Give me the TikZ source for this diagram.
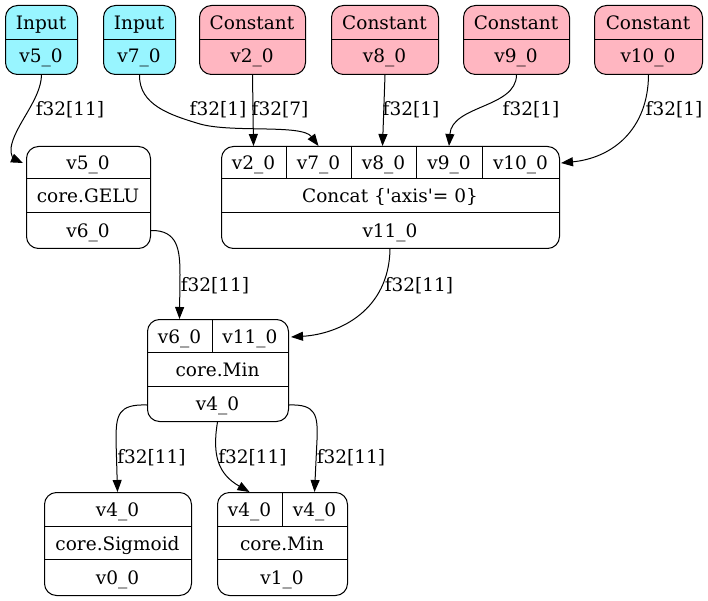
\documentclass[tikz,border=0pt]{standalone}
\usepackage{fontspec}
\setmainfont{DejaVu Serif}
\font\rawser="DejaVu Serif" at 18.5pt
\usetikzlibrary{arrows.meta,calc}
\definecolor{inputc}{HTML}{98F5FF}
\definecolor{constc}{HTML}{FFB6C1}
\tikzset{
  rec/.style={draw, rounded corners=12pt, line width=1pt, inner sep=0pt, anchor=north west},
  txt/.style={inner sep=0pt, anchor=base, font=\fontsize{18.5}{20}\selectfont},
  elab/.style={inner sep=0pt, anchor=base, font=\fontsize{18.5}{20}\selectfont},
  div/.style={line width=1pt},
  conn/.style={-{Triangle[length=12pt,width=9pt]}, line width=1pt},
}
\begin{document}
\begin{tikzpicture}[x=1pt,y=-1pt]
\useasboundingbox (0,0) rectangle (708,601);
% ---------- top row ----------
\node[rec, fill=inputc, minimum width=72pt, minimum height=69pt] (in5) at (5,5) {};
\draw[div] (5,40) -- (77,40);
\node[txt] (in5a) at (41,29.5) {Input};
\node[txt] (in5b) at (41,63) {v5\_0};

\node[rec, fill=inputc, minimum width=72pt, minimum height=69pt] (in7) at (103,5) {};
\draw[div] (103,40) -- (175,40);
\node[txt] (in7a) at (139,29.5) {Input};
\node[txt] (in7b) at (139,63) {v7\_0};

\node[rec, fill=constc, minimum width=106pt, minimum height=69pt] (c2) at (199,5) {};
\draw[div] (199,40) -- (305,40);
\node[txt] (c2a) at (252,29.5) {Constant};
\node[txt] (c2b) at (252,63) {v2\_0};

\node[rec, fill=constc, minimum width=107pt, minimum height=69pt] (c8) at (331,5) {};
\draw[div] (331,40) -- (438,40);
\node[txt] (c8a) at (384.5,29.5) {Constant};
\node[txt] (c8b) at (384.5,63) {v8\_0};

\node[rec, fill=constc, minimum width=106pt, minimum height=69pt] (c9) at (463,5) {};
\draw[div] (463,40) -- (569,40);
\node[txt] (c9a) at (516,29.5) {Constant};
\node[txt] (c9b) at (516,63) {v9\_0};

\node[rec, fill=constc, minimum width=108pt, minimum height=69pt] (c10) at (594,5) {};
\draw[div] (594,40) -- (702,40);
\node[txt] (c10a) at (648,29.5) {Constant};
\node[txt] (c10b) at (648,63) {v10\_0};

% ---------- GELU ----------
\node[rec, minimum width=124pt, minimum height=102pt] (gelu) at (26,146) {};
\draw[div] (26,179) -- (150,179);
\draw[div] (26,213) -- (150,213);
\node[txt] (gelua) at (88,169.5) {v5\_0};
\node[txt] (gelub) at (88,203) {core.GELU};
\node[txt] (geluc) at (88,237) {v6\_0};

% ---------- Concat ----------
\node[rec, minimum width=338pt, minimum height=102pt] (cat) at (221,146) {};
\draw[div] (221,179) -- (559,179);
\draw[div] (221,213) -- (559,213);
\draw[div] (286,146) -- (286,179);
\draw[div] (351,146) -- (351,179);
\draw[div] (416,146) -- (416,179);
\draw[div] (482,146) -- (482,179);
\node[txt] (catp2) at (253.5,169.5) {v2\_0};
\node[txt] (catp7) at (318.5,169.5) {v7\_0};
\node[txt] (catp8) at (383.5,169.5) {v8\_0};
\node[txt] (catp9) at (449,169.5) {v9\_0};
\node[txt] (catp10) at (520.5,169.5) {v10\_0};
\node[txt] (catb) at (390,203) {Concat \{{\rawser'}axis{\rawser'}= 0\}};
\node[txt] (catc) at (390,237) {v11\_0};

% ---------- Min ----------
\node[rec, minimum width=141pt, minimum height=102pt] (mn) at (147,319) {};
\draw[div] (147,352.5) -- (288,352.5);
\draw[div] (147,386.5) -- (288,386.5);
\draw[div] (212,319) -- (212,352.5);
\node[txt] (mnp6) at (179.5,343) {v6\_0};
\node[txt] (mnp11) at (250,343) {v11\_0};
\node[txt] (mnb) at (217.5,376.5) {core.Min};
\node[txt] (mnc) at (217.5,410) {v4\_0};

% ---------- Sigmoid ----------
\node[rec, minimum width=147pt, minimum height=103pt] (sig) at (44,492) {};
\draw[div] (44,526) -- (191,526);
\draw[div] (44,559.5) -- (191,559.5);
\node[txt] (siga) at (117.5,516) {v4\_0};
\node[txt] (sigb) at (117.5,550) {core.Sigmoid};
\node[txt] (sigc) at (117.5,584) {v0\_0};

% ---------- Min 2 ----------
\node[rec, minimum width=130pt, minimum height=103pt] (mn2) at (217,492) {};
\draw[div] (217,526) -- (347,526);
\draw[div] (217,559.5) -- (347,559.5);
\draw[div] (282,492) -- (282,526);
\node[txt] (mn2p1) at (249.5,516) {v4\_0};
\node[txt] (mn2p2) at (314.5,516) {v4\_0};
\node[txt] (mn2b) at (282,550) {core.Min};
\node[txt] (mn2c) at (282,584) {v1\_0};

% ---------- connectors ----------
\draw[conn] (in5.south) .. controls (41,100) and (14,126) .. (11,148) .. controls (10,154) and (14,159) .. ($(gelu.north west)+(-3,17)$);
\node[elab] (l1) at (70,116) {f32[11]};

\draw[conn] (in7.south) .. controls (139,105) and (170,115) .. (200,124) .. controls (232,133) and (302,124) .. (catp7.center |- cat.north);
\node[elab] (l2) at (218,116) {f32[1]};

\draw[conn] (c2.south) -- (catp2.center |- cat.north);
\node[elab] (l3) at (280,116) {f32[7]};

\draw[conn] (c8.south) -- (382.5,146);
\node[elab] (l4) at (411,116) {f32[1]};

\draw[conn] (c9.south) .. controls (516,108) and (452,105) .. (catp9.center |- cat.north);
\node[elab] (l5) at (531,116) {f32[1]};

\draw[conn] (c10.south) .. controls (648,130) and (612,158) .. ($(cat.north east)+(1,17)$);
\node[elab] (l6) at (674,116) {f32[1]};

\draw[conn] ($(gelu.east)+(0,33)$) .. controls (178,230) and (180,250) .. (180,275) -- (mnp6.center |- mn.north);
\node[elab] (l7) at (215,291) {f32[11]};

\draw[conn] (catc.center |- cat.south) .. controls (389,310) and (340,334) .. ($(mn.north east)+(2,18)$);
\node[elab] (l8) at (419,291) {f32[11]};

\draw[conn] ($(mn.south west)+(0,-17)$) .. controls (118,404) and (116,415) .. (116,440) -- (siga.center |- sig.north);
\node[elab] (l9) at (151.5,463.5) {f32[11]};

\draw[conn] (mnc.center |- mn.south) .. controls (212,455) and (218,474) .. (mn2p1.center |- mn2.north);
\node[elab] (l10) at (252.5,463.5) {f32[11]};

\draw[conn] ($(mn.south east)+(0,-17)$) .. controls (316,404) and (318,415) .. (317,440) -- (mn2p2.center |- mn2.north);
\node[elab] (l11) at (351,463.5) {f32[11]};
\end{tikzpicture}
\end{document}
